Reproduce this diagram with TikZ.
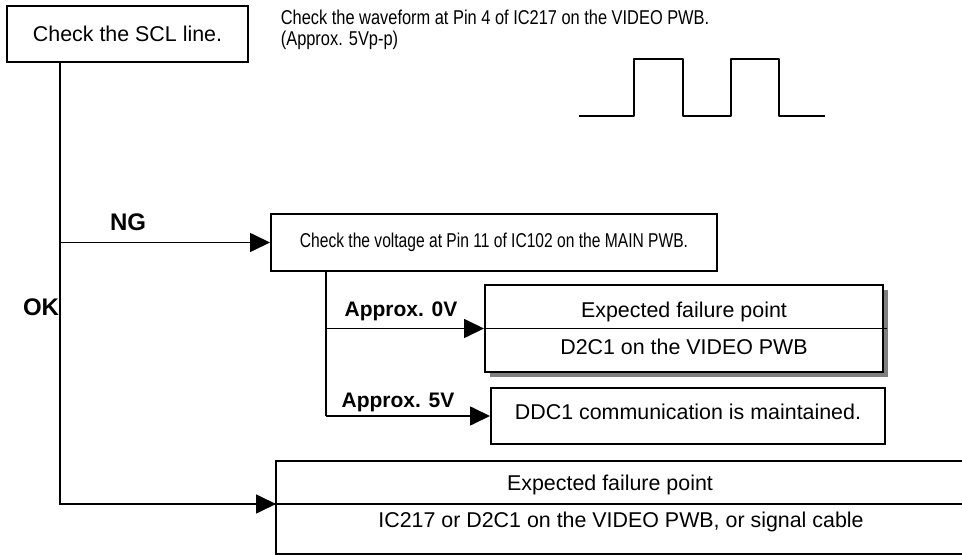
\documentclass[tikz,border=0pt]{standalone}
\usepackage{fontspec}
\setmainfont{Liberation Sans}
\newfontfamily\narrowsans[FakeStretch=0.78]{Liberation Sans}
\newfontfamily\wavesans[FakeStretch=0.82]{Liberation Sans}
\usetikzlibrary{arrows.meta,shadows}
\definecolor{ink}{gray}{0.0}
\definecolor{shade}{gray}{0.50}

\begin{document}
\begin{tikzpicture}[x=0.5pt, y=-0.5pt, line width=0.85pt,
   font=\fontsize{10.7}{12.5}\selectfont,
   box/.style={rectangle, draw=ink, line width=1pt, inner sep=0pt},
   conn/.style={draw=ink, line width=0.85pt},
   arr/.style={conn, -{Triangle[length=10pt, width=9.5pt]}},
   lbl/.style={font=\fontsize{10.5}{12}\selectfont\bfseries},
   big/.style={font=\fontsize{12}{14}\selectfont\bfseries}]
  \useasboundingbox (0,0) rectangle (962,555);
  \clip (0,0) rectangle (962,555);
  % top: SCL check and the waveform to look for
  \node[box, minimum width=120.5pt, minimum height=28pt] (scl) at (127.5,34) {Check the SCL line.};
  \node[anchor=base west, inner sep=0pt, font=\fontsize{10}{12}\wavesans] (wave1) at (280,25) {Check the waveform at Pin 4 of IC217 on the VIDEO PWB.};
  \node[anchor=base west, inner sep=0pt, font=\fontsize{10}{12}\wavesans] (wave2) at (280,46) {(Approx. 5Vp-p)};
  \draw[ink, line width=1pt, line join=round] (579,116) -- (634,116) -- (634,59) -- (683,59) -- (683,116)
     -- (731,116) -- (731,59) -- (779,59) -- (779,116) -- (825,116);
  % NG branch: voltage check on the MAIN PWB
  \node[box, minimum width=223pt, minimum height=28.5pt] (volt) at (494,242.5) {\fontsize{10}{12}\narrowsans Check the voltage at Pin 11 of IC102 on the MAIN PWB.};
  \coordinate (trunk) at (60,62);
  \draw[arr] (trunk |- volt.west) -- (volt.west);
  \node[big] (ng) at (128,222) {NG};
  \node[big] (ok) at (41,307) {OK};
  % results of the voltage check
  \node[box, minimum width=199pt, minimum height=43.5pt,
        drop shadow={shadow xshift=2.5pt, shadow yshift=-2.5pt, fill=shade, opacity=1}, fill=white] (fail1) at (684,328.5) {};
  \draw[conn] (fail1.west) -- ([xshift=1.5pt]fail1.east);
  \node (f1top) at (684,312) {Expected failure point};
  \node (f1bot) at (684,347) {D2C1 on the VIDEO PWB};
  \node[box, minimum width=197pt, minimum height=28pt] (keep) at (688,416) {};
  \node (keeptxt) at (688,412) {DDC1 communication is maintained.};
  \coordinate (branch) at (326,271);
  \draw[conn] (branch) -- (branch |- keep.west);
  \draw[arr] (branch |- fail1.west) -- (fail1.west);
  \draw[arr] (branch |- keep.west) -- (keep.west);
  \node[lbl] (v0) at (401,311) {Approx. 0V};
  \node[lbl] (v5) at (398,402) {Approx. 5V};
  % OK branch: failure point on the VIDEO side
  \node[box, minimum width=357pt, minimum height=46.5pt] (fail2) at (633,507) {};
  \coordinate (mid2) at (276,504);
  \draw[conn] (mid2) -- (mid2 -| fail2.east);
  \node (f2top) at (610,485) {Expected failure point};
  \node (f2bot) at (621,522) {IC217 or D2C1 on the VIDEO PWB, or signal cable};
  \draw[conn] (trunk) |- (mid2);
  \draw[arr] (trunk |- mid2) -- (mid2);
\end{tikzpicture}
\end{document}
